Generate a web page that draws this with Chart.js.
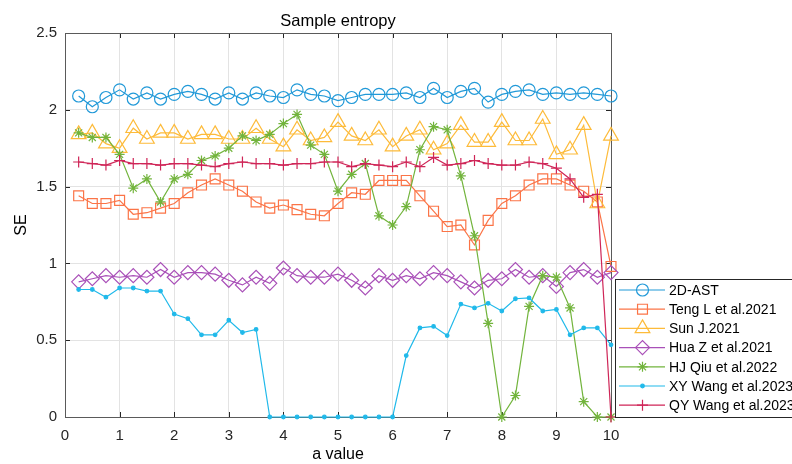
<!DOCTYPE html>
<html>
<head>
<meta charset="utf-8">
<script src="https://cdn.jsdelivr.net/npm/chart.js@4.4.1/dist/chart.umd.min.js"></script>
<style>
  html, body { margin: 0; padding: 0; background: #fff; }
  #wrap { width: 792px; height: 464px; }
</style>
</head>
<body>
<div id="wrap"><canvas id="seChart" width="792" height="464"></canvas></div>
<script>
// a value (x axis)
const aValues = [0.25, 0.5, 0.75, 1, 1.25, 1.5, 1.75, 2, 2.25, 2.5, 2.75, 3, 3.25, 3.5, 3.75, 4, 4.25, 4.5, 4.75, 5,
                 5.25, 5.5, 5.75, 6, 6.25, 6.5, 6.75, 7, 7.25, 7.5, 7.75, 8, 8.25, 8.5, 8.75, 9, 9.25, 9.5, 9.75, 10];

// sample entropy per method
const ast2d = [2.09, 2.02, 2.08, 2.13, 2.07, 2.11, 2.07, 2.10, 2.12, 2.10, 2.07, 2.11, 2.07, 2.11, 2.09, 2.08, 2.13, 2.10, 2.09, 2.06,
               2.08, 2.10, 2.10, 2.10, 2.11, 2.08, 2.14, 2.08, 2.12, 2.14, 2.05, 2.10, 2.12, 2.13, 2.10, 2.11, 2.10, 2.11, 2.10, 2.09];
const tengL = [1.44, 1.39, 1.39, 1.41, 1.32, 1.33, 1.36, 1.39, 1.46, 1.51, 1.55, 1.51, 1.47, 1.40, 1.36, 1.38, 1.35, 1.32, 1.31, 1.39,
               1.46, 1.45, 1.54, 1.54, 1.54, 1.44, 1.34, 1.24, 1.25, 1.12, 1.28, 1.39, 1.44, 1.51, 1.55, 1.55, 1.51, 1.47, 1.40, 0.98];
const sunJ = [1.84, 1.85, 1.78, 1.75, 1.88, 1.81, 1.85, 1.85, 1.81, 1.84, 1.84, 1.81, 1.81, 1.88, 1.81, 1.76, 1.87, 1.80, 1.82, 1.92,
              1.83, 1.80, 1.87, 1.76, 1.83, 1.87, 1.74, 1.78, 1.90, 1.79, 1.79, 1.92, 1.80, 1.80, 1.94, 1.71, 1.74, 1.90, 1.39, 1.83];
const huaZ = [0.88, 0.90, 0.92, 0.91, 0.92, 0.91, 0.96, 0.91, 0.94, 0.94, 0.93, 0.89, 0.86, 0.91, 0.87, 0.97, 0.92, 0.91, 0.91, 0.93,
              0.89, 0.84, 0.92, 0.89, 0.92, 0.90, 0.94, 0.92, 0.88, 0.84, 0.89, 0.90, 0.96, 0.91, 0.92, 0.85, 0.94, 0.96, 0.91, 0.94];
const hjQiu = [1.85, 1.82, 1.82, 1.71, 1.49, 1.55, 1.40, 1.55, 1.58, 1.67, 1.70, 1.75, 1.83, 1.80, 1.84, 1.91, 1.97, 1.77, 1.71, 1.47,
               1.58, 1.65, 1.31, 1.25, 1.37, 1.74, 1.89, 1.87, 1.57, 1.18, 0.61, 0, 0.14, 0.72, 0.92, 0.91, 0.71, 0.10, 0, 0];
const xyWang = [0.83, 0.83, 0.78, 0.84, 0.84, 0.82, 0.82, 0.67, 0.64, 0.535, 0.535, 0.63, 0.55, 0.57, 0, 0, 0, 0, 0, 0,
                0, 0, 0, 0, 0.40, 0.58, 0.59, 0.53, 0.735, 0.71, 0.74, 0.69, 0.77, 0.775, 0.69, 0.70, 0.535, 0.58, 0.58, 0.47];
const qyWang = [1.66, 1.65, 1.64, 1.67, 1.65, 1.65, 1.64, 1.65, 1.65, 1.64, 1.63, 1.65, 1.66, 1.65, 1.65, 1.64, 1.65, 1.65, 1.66, 1.66,
                1.63, 1.65, 1.64, 1.63, 1.66, 1.63, 1.69, 1.64, 1.65, 1.67, 1.65, 1.64, 1.64, 1.66, 1.65, 1.62, 1.55, 1.43, 1.45, 0];

const xTicks = [0, 1, 2, 3, 4, 5, 6, 7, 8, 9, 10];
const yTicks = [0, 0.5, 1, 1.5, 2, 2.5];
const yTickLabels = ['0', '0.5', '1', '1.5', '2', '2.5'];

const FONT = "'Liberation Sans', Arial, Helvetica, sans-serif";

// name, values, colour, marker, radius
const seriesDefs = [
    ['2D-AST', ast2d, '#2199d8', 'circle', 6],
    ['Teng L et al.2021', tengL, '#fb7447', 'rect', 7],
    ['Sun J.2021', sunJ, '#fdbb3a', 'triangle', 8.5],
    ['Hua Z et al.2021', huaZ, '#a950b8', 'rectRot', 7],
    ['HJ Qiu et al.2022', hjQiu, '#72b43c', 'star', 5],
    ['XY Wang et al.2023', xyWang, '#20b9ea', 'circle', 1.8],
    ['QY Wang et al.2023', qyWang, '#cf2557', 'cross', 5.5]
];

const datasets = seriesDefs.map((s, i) => {
    const isDot = s[4] < 3;
    return {
        label: s[0],
        data: aValues.map((x, k) => ({ x: x, y: s[1][k] })),
        borderColor: s[2],
        borderWidth: 1.2,
        pointStyle: s[3],
        pointRadius: s[4],
        pointBorderColor: s[2],
        pointBackgroundColor: isDot ? s[2] : 'rgba(0,0,0,0)',
        pointBorderWidth: 1.2,
        tension: 0,
        clip: 12,
        order: seriesDefs.length - i // later series on top, like MATLAB
    };
});

// title, box, inner ticks, legend
const matlabLook = {
    id: 'matlabLook',
    beforeDatasetsDraw(chart) {
        const { ctx, chartArea: a } = chart;
        ctx.save();
        ctx.strokeStyle = '#262626';
        ctx.lineWidth = 1;
        const xs = chart.scales.x, ys = chart.scales.y;
        xTicks.forEach(v => {
            const px = Math.round(xs.getPixelForValue(v)) + 0.5;
            ctx.beginPath();
            ctx.moveTo(px, a.bottom); ctx.lineTo(px, a.bottom - 5);
            ctx.moveTo(px, a.top); ctx.lineTo(px, a.top + 5);
            ctx.stroke();
        });
        yTicks.forEach(v => {
            const py = Math.round(ys.getPixelForValue(v)) + 0.5;
            ctx.beginPath();
            ctx.moveTo(a.left, py); ctx.lineTo(a.left + 5, py);
            ctx.moveTo(a.right, py); ctx.lineTo(a.right - 5, py);
            ctx.stroke();
        });
        ctx.strokeStyle = '#5a5a5a';
        ctx.strokeRect(Math.round(a.left) + 0.5, Math.round(a.top) + 0.5,
                       Math.round(a.right - a.left), Math.round(a.bottom - a.top));
        ctx.restore();
    },
    afterDraw(chart) {
        const { ctx, chartArea: a } = chart;
        ctx.save();
        // title
        ctx.fillStyle = '#000';
        ctx.font = '16.5px ' + FONT;
        ctx.textAlign = 'center';
        ctx.textBaseline = 'middle';
        ctx.fillText('Sample entropy', (a.left + a.right) / 2, 21);

        // legend box
        const lx = 615, ly = 279, lh = 138;
        ctx.fillStyle = '#fff';
        ctx.fillRect(lx, ly, 792 - lx, lh);
        ctx.strokeStyle = '#262626';
        ctx.lineWidth = 1;
        ctx.strokeRect(lx + 0.5, ly + 0.5, 800 - lx, lh);

        ctx.font = '14px ' + FONT;
        ctx.textAlign = 'left';
        datasets.forEach((d, i) => {
            const y = 290 + i * 19.2;
            ctx.strokeStyle = d.borderColor;
            ctx.lineWidth = 1.2;
            ctx.beginPath();
            ctx.moveTo(619, y); ctx.lineTo(665, y);
            ctx.stroke();
            ctx.fillStyle = d.pointBackgroundColor;
            if (Chart.helpers && Chart.helpers.drawPoint) {
                Chart.helpers.drawPoint(ctx, {
                    pointStyle: d.pointStyle, radius: d.pointRadius,
                    rotation: 0, borderWidth: d.pointBorderWidth
                }, 642.5, y);
            }
            ctx.fillStyle = '#000';
            ctx.fillText(d.label, 669, y + 1);
        });
        ctx.restore();
    }
};

new Chart(document.getElementById('seChart'), {
    type: 'line',
    data: { datasets: datasets },
    options: {
        responsive: false,
        devicePixelRatio: 1,
        animation: false,
        layout: { padding: { left: 0, right: 181, top: 33, bottom: 0 } },
        scales: {
            x: {
                type: 'linear',
                min: 0, max: 10,
                afterFit: s => { s.height = 47; },
                afterBuildTicks: s => { s.ticks = xTicks.map(v => ({ value: v })); },
                ticks: { color: '#262626', font: { family: FONT, size: 15 }, padding: 10, maxRotation: 0,
                         callback: v => String(v) },
                grid: { color: '#e3e3e3', drawTicks: false },
                border: { display: false },
                title: { display: true, text: 'a value', color: '#000', font: { family: FONT, size: 16 }, padding: { top: 0, bottom: 0 } }
            },
            y: {
                min: 0, max: 2.5,
                afterFit: s => { s.width = 65; },
                afterBuildTicks: s => { s.ticks = yTicks.map(v => ({ value: v })); },
                ticks: { color: '#262626', font: { family: FONT, size: 15 }, padding: 8,
                         callback: v => yTickLabels[yTicks.indexOf(v)] },
                grid: { color: '#e3e3e3', drawTicks: false },
                border: { display: false },
                title: { display: true, text: 'SE', color: '#000', font: { family: FONT, size: 16 }, padding: { top: 12, bottom: 0 } }
            }
        },
        plugins: {
            legend: { display: false },
            title: { display: false },
            tooltip: { enabled: false }
        }
    },
    plugins: [matlabLook]
});
</script>
</body>
</html>
